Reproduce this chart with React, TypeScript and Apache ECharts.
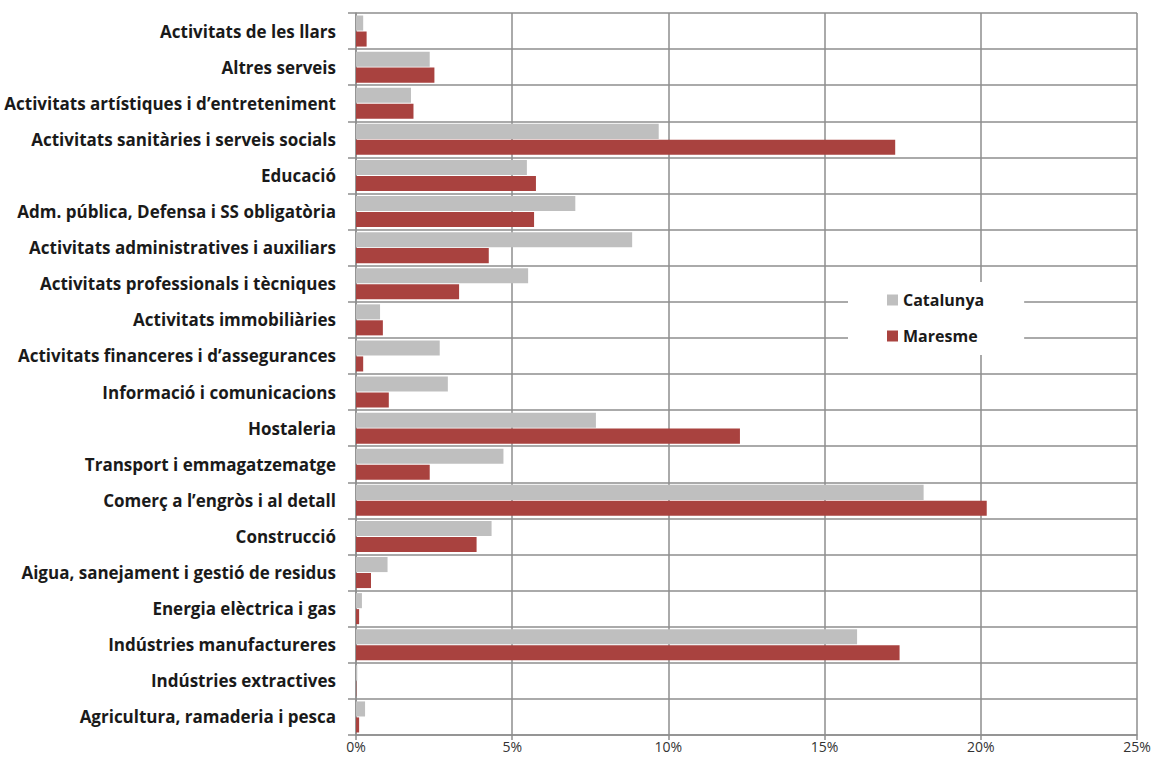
import React, { useEffect, useRef } from "react";
import * as echarts from "echarts";

const categories = [
  "Agricultura, ramaderia i pesca",
  "Indústries extractives",
  "Indústries manufactureres",
  "Energia elèctrica i gas",
  "Aigua, sanejament i gestió de residus",
  "Construcció",
  "Comerç a l’engròs i al detall",
  "Transport i emmagatzematge",
  "Hostaleria",
  "Informació i comunicacions",
  "Activitats financeres i d’assegurances",
  "Activitats immobiliàries",
  "Activitats professionals i tècniques",
  "Activitats administratives i auxiliars",
  "Adm. pública, Defensa i SS obligatòria",
  "Educació",
  "Activitats sanitàries i serveis socials",
  "Activitats artístiques i d’entreteniment",
  "Altres serveis",
  "Activitats de les llars",
];

const catalunya = [
  0.29, 0.04, 16.04, 0.19, 1.01, 4.34, 18.17, 4.72, 7.68, 2.94,
  2.68, 0.77, 5.51, 8.84, 7.02, 5.47, 9.69, 1.76, 2.36, 0.23,
];

const maresme = [
  0.1, 0.01, 17.4, 0.1, 0.48, 3.86, 20.19, 2.36, 12.29, 1.05,
  0.23, 0.86, 3.3, 4.25, 5.7, 5.76, 17.26, 1.84, 2.51, 0.34,
];

const xTicks = [0, 5, 10, 15, 20, 25];

const GRAY = "#bfbfbf";
const RED = "#a9423f";
const LINE = "#8e8e8e";
const FONT = "Open Sans";

export default function App() {
  const ref = useRef<HTMLDivElement>(null);
  useEffect(() => {
    if (!ref.current) return;
    const chart = echarts.init(ref.current, undefined, { renderer: "svg" });
    chart.setOption({
      animation: false,
      backgroundColor: "#ffffff",
      grid: { left: 356, right: 19, top: 13, bottom: 29, containLabel: false },
      legend: {
        orient: "vertical",
        left: 848,
        top: 282,
        data: ["Catalunya", "Maresme"],
        backgroundColor: "#ffffff",
        padding: [10, 40, 11, 39],
        itemWidth: 11,
        itemHeight: 11,
        itemGap: 20,
        icon: "rect",
        textStyle: {
          fontFamily: FONT,
          fontWeight: "bold",
          fontSize: 16,
          color: "#1a1a1a",
        },
      },
      xAxis: {
        type: "value",
        min: xTicks[0],
        max: xTicks[xTicks.length - 1],
        interval: 5,
        axisLine: { show: true, lineStyle: { color: LINE, width: 1.5 } },
        axisTick: { show: true, length: 5, lineStyle: { color: LINE, width: 1.5 } },
        splitLine: { show: true, lineStyle: { color: LINE, width: 1.5 } },
        axisLabel: {
          formatter: "{value}%",
          fontFamily: FONT,
          fontSize: 14,
          color: "#333333",
          margin: 4,
        },
      },
      yAxis: {
        type: "category",
        data: categories,
        axisLine: { show: true, lineStyle: { color: LINE, width: 1.5 } },
        axisTick: { show: true, length: 8, interval: 0, lineStyle: { color: LINE, width: 1.5 } },
        splitLine: { show: true, interval: 0, lineStyle: { color: LINE, width: 1.5 } },
        axisLabel: {
          interval: 0,
          margin: 20,
          fontFamily: FONT,
          fontWeight: "bold",
          fontSize: 17,
          color: "#1a1a1a",
        },
      },
      series: [
        {
          name: "Catalunya",
          type: "bar",
          data: catalunya,
          itemStyle: { color: GRAY },
          barCategoryGap: "14%",
          barGap: "6%",
          z: 3,
        },
        {
          name: "Maresme",
          type: "bar",
          data: maresme,
          itemStyle: { color: RED },
          barCategoryGap: "14%",
          barGap: "6%",
          z: 3,
        },
      ],
    });
    return () => chart.dispose();
  }, []);
  return (
    <div
      ref={ref}
      style={{ position: "fixed", left: 0, top: 0, width: 1156, height: 764 }}
    />
  );
}
